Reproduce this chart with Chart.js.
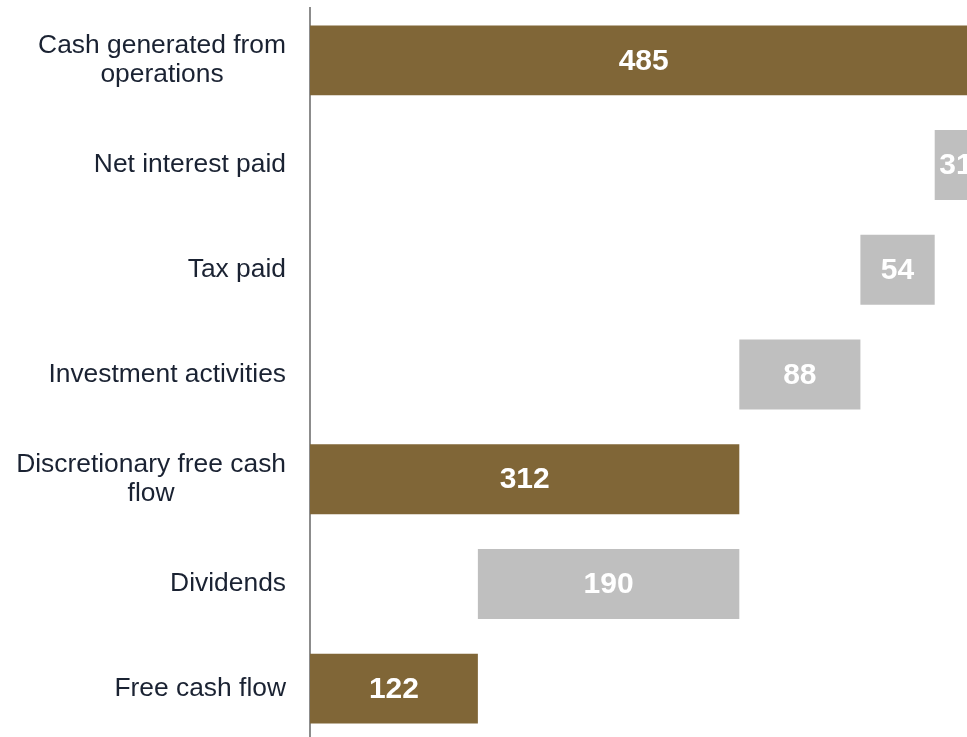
<!DOCTYPE html>
<html>
<head>
<meta charset="utf-8">
<script src="https://cdn.jsdelivr.net/npm/chart.js@4"></script>
<style>
  html, body { margin:0; padding:0; background:#fff; overflow:hidden; }
  #wrap { width:998px; height:741px; }
</style>
</head>
<body>
<div id="wrap"><canvas id="chart" width="998" height="741"></canvas></div>
<script>
// Cash flow bridge data
const categories = [
  ["Cash generated from", "operations"],
  ["Net interest paid"],
  ["Tax paid"],
  ["Investment activities"],
  ["Discretionary free cash", "flow"],
  ["Dividends"],
  ["Free cash flow"]
];
const amounts = [485, 31, 54, 88, 312, 190, 122];
const kinds = ["total", "step", "step", "step", "total", "step", "total"];

const GOLD = '#806637', GREY = '#bfbfbf';

// floating bars: totals start at 0, steps hang down from the running total
let running = 0;
const ranges = amounts.map((v, i) => {
  if (kinds[i] === 'total') { running = v; return [0, v]; }
  const r = [running - v, running];
  running -= v;
  return r;
});

const labelFont = '26.4px "Liberation Sans", Arial, sans-serif';
const valueFont = 'bold 30px "Liberation Sans", Arial, sans-serif';

// category labels: block right-aligned to the axis, lines centred inside the block
const categoryLabels = {
  id: 'categoryLabels',
  afterDraw(chart) {
    const ctx = chart.ctx, y = chart.scales.y;
    ctx.save();
    ctx.font = labelFont;
    ctx.fillStyle = '#1a2232';
    ctx.textBaseline = 'middle';
    ctx.textAlign = 'center';
    const lh = 29.5, right = 286;
    categories.forEach((lines, i) => {
      const w = Math.max(...lines.map(l => ctx.measureText(l).width));
      const cx = right - w / 2;
      const cy = y.getPixelForValue(i) - (lines.length - 1) * lh / 2;
      lines.forEach((l, k) => ctx.fillText(l, cx, cy + k * lh));
    });
    ctx.restore();
  }
};

// value labels in the middle of each bar
const valueLabels = {
  id: 'valueLabels',
  afterDatasetsDraw(chart) {
    const ctx = chart.ctx;
    const meta = chart.getDatasetMeta(0);
    ctx.save();
    ctx.font = valueFont;
    ctx.fillStyle = '#ffffff';
    ctx.textAlign = 'center';
    ctx.textBaseline = 'middle';
    meta.data.forEach((bar, i) => {
      ctx.fillText(String(amounts[i]), (bar.x + bar.base) / 2, bar.y + 1);
    });
    ctx.restore();
  }
};

new Chart(document.getElementById('chart'), {
  type: 'bar',
  data: {
    labels: categories.map(c => c.join(' ')),
    datasets: [{
      data: ranges,
      backgroundColor: kinds.map(k => k === 'total' ? GOLD : GREY),
      borderWidth: 0,
      barPercentage: 0.668,
      categoryPercentage: 1
    }]
  },
  options: {
    indexAxis: 'y',
    responsive: false,
    animation: false,
    layout: { padding: { top: 8, left: 0, right: 0, bottom: 0 } },
    plugins: { legend: { display: false }, tooltip: { enabled: false } },
    scales: {
      x: {
        display: false,
        min: 0,
        max: 500
      },
      y: {
        grid: { display: false },
        border: { display: true, color: '#8c8c8c', width: 2 },
        ticks: { display: false },
        afterFit(scale) { scale.width = 310; }
      }
    }
  },
  plugins: [categoryLabels, valueLabels]
});
</script>
</body>
</html>
